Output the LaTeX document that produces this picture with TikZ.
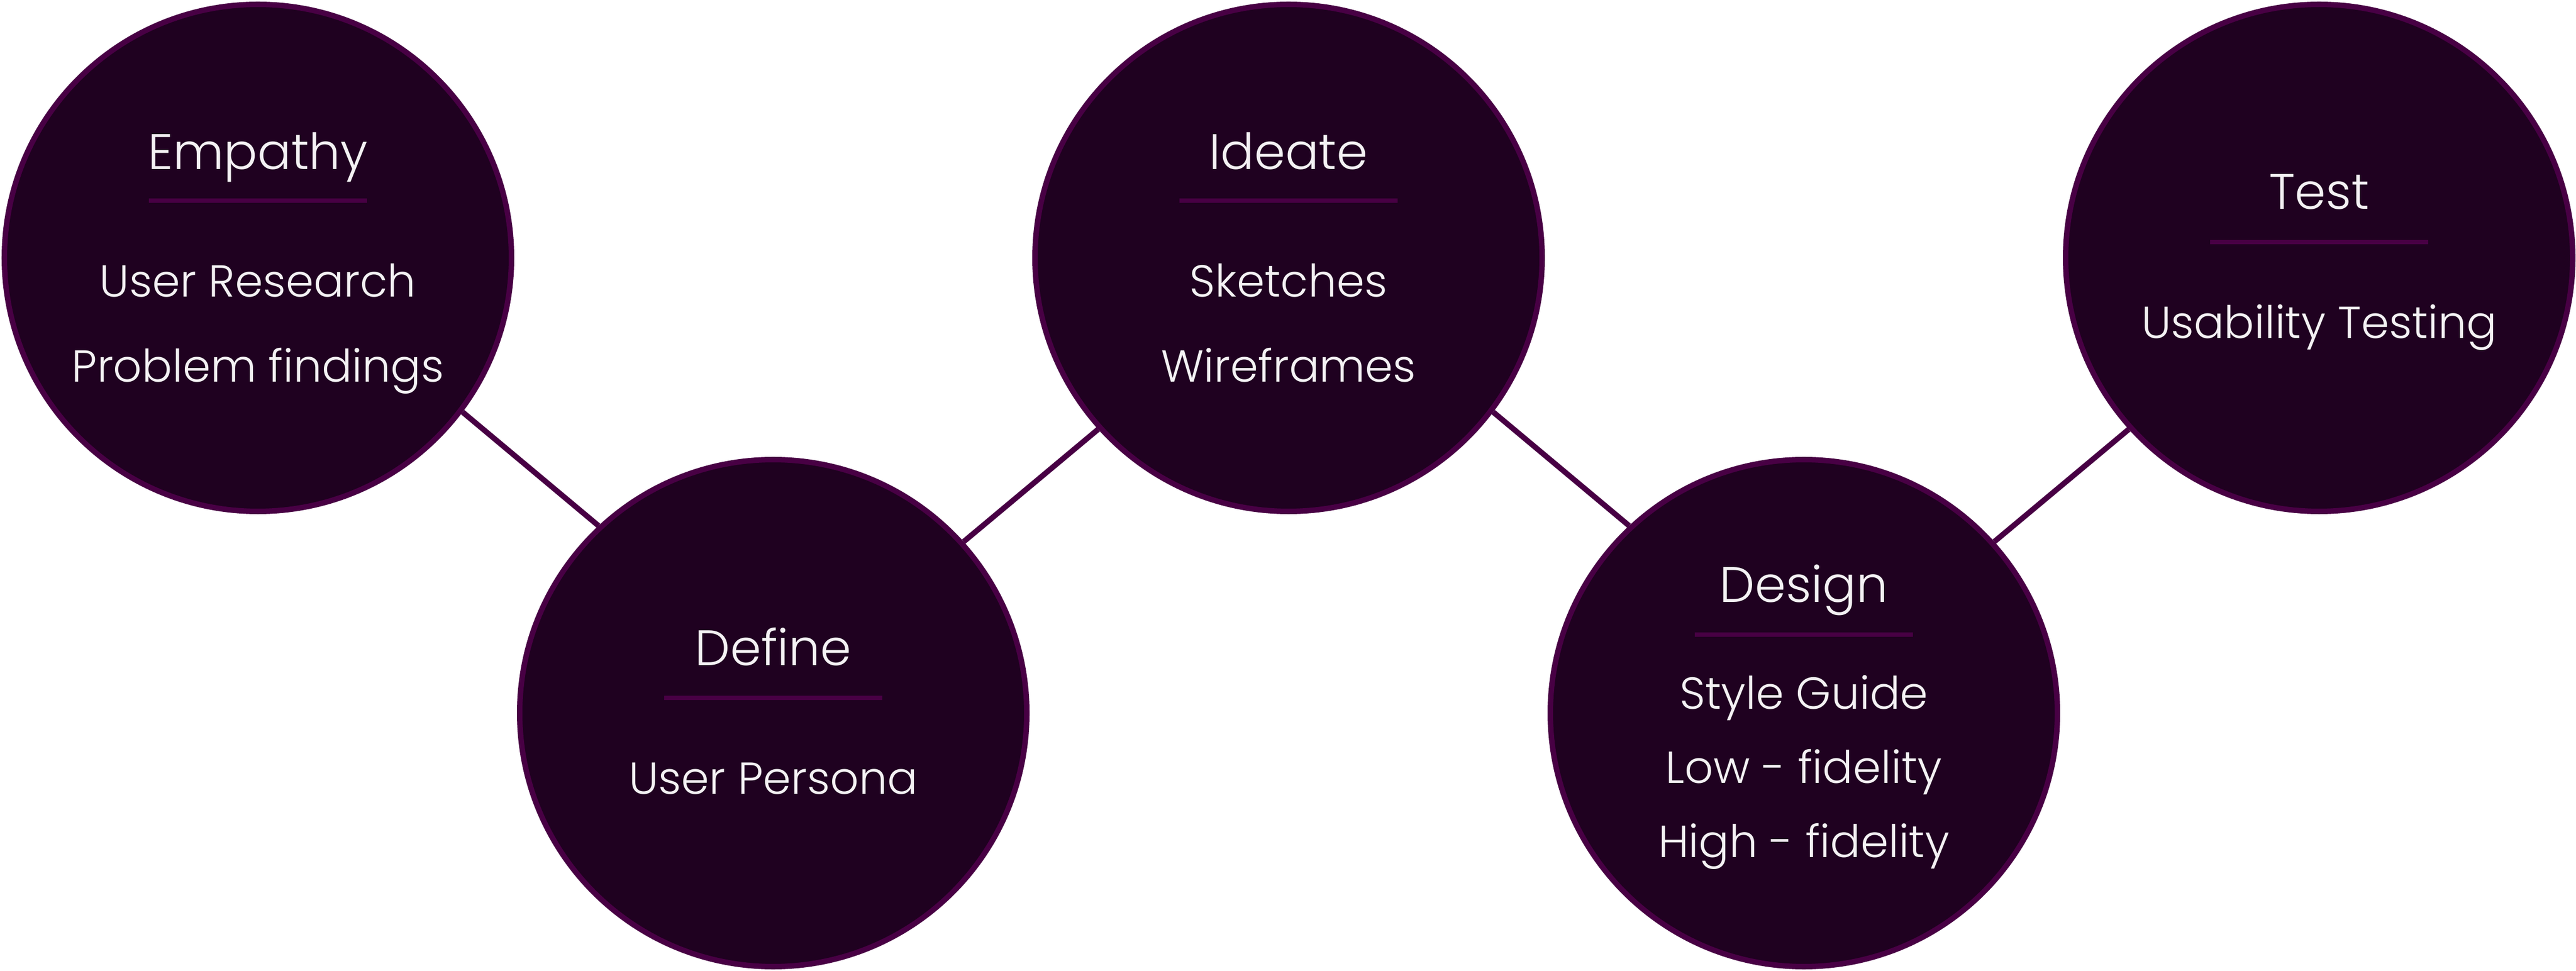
\documentclass[tikz,border=0pt]{standalone}
\usepackage{fontspec}
\setmainfont{Poppins}[UprightFont=* Light]
\usepackage{tikz}
\usetikzlibrary{positioning}
\definecolor{stagefill}{HTML}{1F0120}
\definecolor{stageline}{HTML}{480044}
\definecolor{stagetext}{HTML}{F4F2F4}

\begin{document}
\begin{tikzpicture}[every node/.append style={font=\rmfamily,text=stagetext},
    stage/.style={circle,draw=stageline,fill=stagefill,line width=2.85pt,
                  minimum size=9.30cm,inner sep=0},
    stagehead/.style={anchor=base,font=\fontsize{26}{31}\selectfont},
    stageitem/.style={anchor=base,font=\fontsize{23.4}{28}\selectfont},
    stagebar/.style={fill=stageline,minimum width=4cm,minimum height=.08cm,inner sep=0},
    stagelink/.style={draw=stageline,line width=2.85pt}]
    \useasboundingbox (0,0) rectangle (47.24,17.80);
    \node[stage] (emp) at (4.73,13.07) {};
    \node[stage] (def) at (14.18,4.72) {};
    \node[stage] (ide) at (23.63,13.07) {};
    \node[stage] (des) at (33.08,4.72) {};
    \node[stage] (tst) at (42.53,13.07) {};
    \draw[stagelink] (emp.-37) -- (def.133.5);
    \draw[stagelink] (def.42.5) -- (ide.-138.5);
    \draw[stagelink] (ide.-37) -- (des.133.5);
    \draw[stagelink] (des.42.5) -- (tst.-138.5);
    \node[stagehead] (emp-head) at (4.73,14.69) {Empathy};
    \node[stagebar] (emp-bar) at (4.73,14.12) {};
    \node[stageitem] (emp-1) at (4.73,12.35) {User Research};
    \node[stageitem] (emp-2) at (4.73,10.79) {Problem findings};
    \node[stagehead] (def-head) at (14.18,5.59) {Define};
    \node[stagebar] (def-bar) at (14.18,5.00) {};
    \node[stageitem] (def-1) at (14.18,3.24) {User Persona};
    \node[stagehead] (ide-head) at (23.63,14.69) {Ideate};
    \node[stagebar] (ide-bar) at (23.63,14.12) {};
    \node[stageitem] (ide-1) at (23.63,12.35) {Sketches};
    \node[stageitem] (ide-2) at (23.63,10.79) {Wireframes};
    \node[stagehead] (des-head) at (33.08,6.76) {Design};
    \node[stagebar] (des-bar) at (33.08,6.16) {};
    \node[stageitem] (des-1) at (33.08,4.80) {Style Guide};
    \node[stageitem] (des-2) at (33.08,3.44) {Low - fidelity};
    \node[stageitem] (des-3) at (33.08,2.08) {High - fidelity};
    \node[stagehead] (tst-head) at (42.53,13.96) {Test};
    \node[stagebar] (tst-bar) at (42.53,13.36) {};
    \node[stageitem] (tst-1) at (42.53,11.59) {Usability Testing};
\end{tikzpicture}
\end{document}
